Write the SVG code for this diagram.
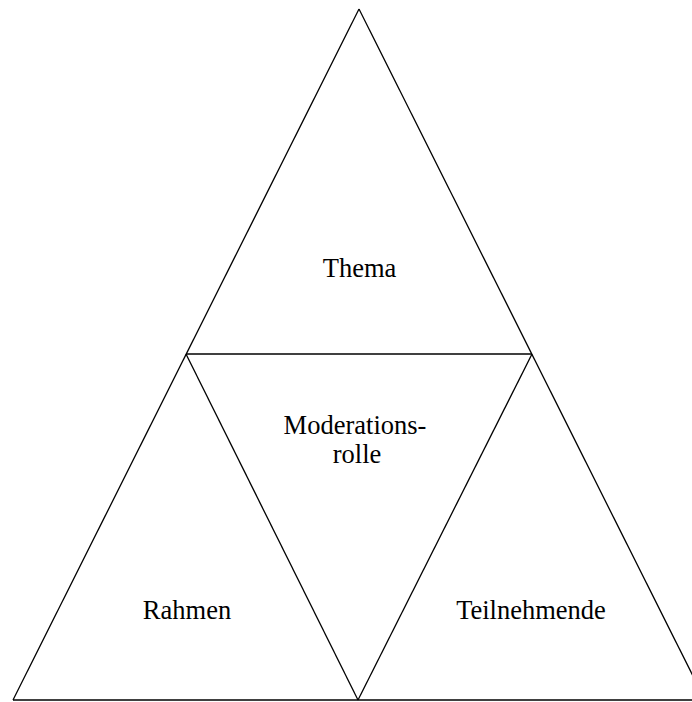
<svg xmlns="http://www.w3.org/2000/svg" width="692" height="702" viewBox="0 0 692 702">
<style>
.e{stroke:#000;stroke-width:1.3;fill:none;stroke-linecap:butt}
.t{font-family:'Liberation Serif','Times New Roman','DejaVu Serif',serif;font-size:26.5px;fill:#000;text-anchor:middle}
</style>
<rect width="692" height="702" fill="#fff"/>
<g id="connectors">
<line class="e" x1="359" y1="9" x2="13" y2="700"/>
<line class="e" x1="359" y1="9" x2="705" y2="700"/>
<line class="e" x1="13" y1="700" x2="705" y2="700"/>
<line class="e" x1="186" y1="354" x2="532" y2="354"/>
<line class="e" x1="186" y1="354" x2="358" y2="700"/>
<line class="e" x1="532" y1="354" x2="358" y2="700"/>
</g>
<g id="thema"><text class="t" x="359.5" y="277">Thema</text></g>
<g id="moderationsrolle"><text class="t" x="355" y="434">Moderations-</text><text class="t" x="357" y="463">rolle</text></g>
<g id="rahmen"><text class="t" x="187" y="619">Rahmen</text></g>
<g id="teilnehmende"><text class="t" x="531" y="619">Teilnehmende</text></g>
</svg>
